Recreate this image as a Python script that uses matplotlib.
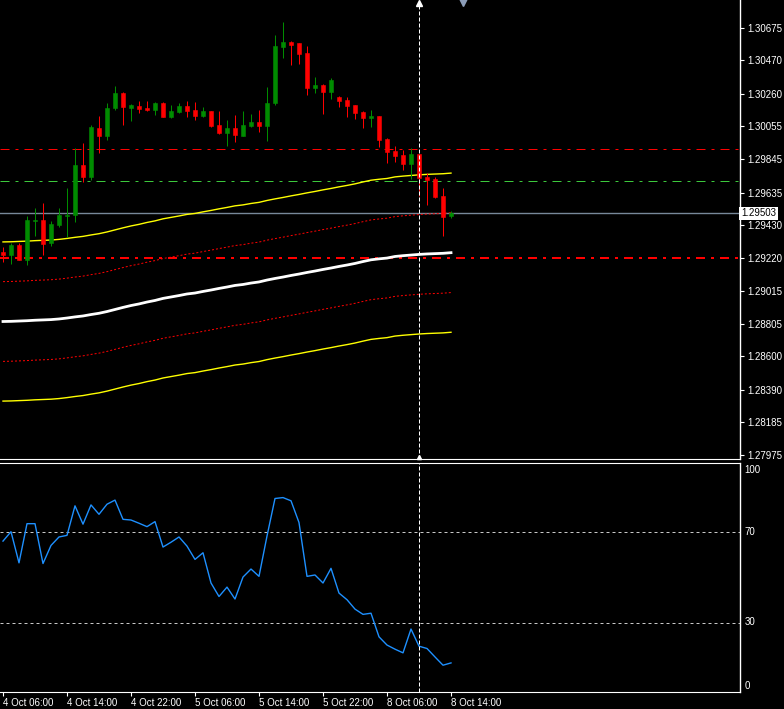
import matplotlib
matplotlib.use("Agg")
import matplotlib.pyplot as plt
import matplotlib.transforms as mtransforms

plt.rcParams.update({
    "font.family": ["Liberation Sans", "DejaVu Sans"],
    "font.size": 7,
    "lines.scale_dashes": False,
    "figure.facecolor": "black",
    "axes.facecolor": "black",
})

# ---- data (H1 bars) ----
opens = [1.29261, 1.29240, 1.29304, 1.29209, 1.29458, 1.29462, 1.29318, 1.29430, 1.29489, 1.29493,
         1.29809, 1.29735, 1.30041, 1.29994, 1.30171, 1.30264, 1.30171, 1.30182, 1.30169, 1.30159,
         1.30201, 1.30114, 1.30144, 1.30182, 1.30157, 1.30121, 1.30150, 1.30062, 1.30013, 1.30043,
         1.29994, 1.30056, 1.30081, 1.30056, 1.30201, 1.30555, 1.30587, 1.30580, 1.30517, 1.30296,
         1.30315, 1.30271, 1.30239, 1.30220, 1.30188, 1.30144, 1.30106, 1.30119, 1.29974, 1.29898,
         1.29872, 1.29816, 1.29879, 1.29733, 1.29721, 1.29613, 1.29484]
highs = [1.29293, 1.29314, 1.29318, 1.29489, 1.29539, 1.29567, 1.29457, 1.29537, 1.29664, 1.29915,
         1.29946, 1.30062, 1.30119, 1.30203, 1.30308, 1.30271, 1.30197, 1.30212, 1.30214, 1.30207,
         1.30207, 1.30188, 1.30199, 1.30214, 1.30207, 1.30176, 1.30150, 1.30150, 1.30094, 1.30125,
         1.30150, 1.30132, 1.30157, 1.30302, 1.30631, 1.30713, 1.30593, 1.30580, 1.30559, 1.30365,
         1.30319, 1.30359, 1.30245, 1.30239, 1.30188, 1.30150, 1.30157, 1.30119, 1.29980, 1.29929,
         1.29904, 1.29917, 1.29879, 1.29759, 1.29733, 1.29664, 1.29518]
lows = [1.29198, 1.29184, 1.29209, 1.29177, 1.29360, 1.29240, 1.29299, 1.29415, 1.29356, 1.29451,
        1.29700, 1.29714, 1.29883, 1.29967, 1.30157, 1.30062, 1.30089, 1.30136, 1.30152, 1.30125,
        1.30114, 1.30108, 1.30140, 1.30114, 1.30094, 1.30114, 1.30051, 1.30007, 1.29931, 1.29956,
        1.29994, 1.30051, 1.30020, 1.29961, 1.30188, 1.30487, 1.30441, 1.30448, 1.30252, 1.30264,
        1.30132, 1.30226, 1.30176, 1.30113, 1.30102, 1.30043, 1.30049, 1.29923, 1.29822, 1.29828,
        1.29778, 1.29721, 1.29613, 1.29556, 1.29601, 1.29360, 1.29474]
closes = [1.29240, 1.29304, 1.29209, 1.29462, 1.29462, 1.29310, 1.29436, 1.29493, 1.29496, 1.29809,
          1.29735, 1.30049, 1.29994, 1.30169, 1.30264, 1.30178, 1.30188, 1.30163, 1.30159, 1.30203,
          1.30114, 1.30150, 1.30182, 1.30152, 1.30121, 1.30150, 1.30058, 1.30013, 1.30041, 1.30001,
          1.30062, 1.30081, 1.30056, 1.30201, 1.30561, 1.30587, 1.30568, 1.30511, 1.30296, 1.30315,
          1.30271, 1.30346, 1.30214, 1.30182, 1.30138, 1.30106, 1.30119, 1.29967, 1.29891, 1.29866,
          1.29816, 1.29879, 1.29727, 1.29714, 1.29607, 1.29481, 1.29503]

# slow moving average and its envelopes
ma_mid = [1.28820, 1.28821, 1.28823, 1.28825, 1.28828, 1.28830, 1.28832, 1.28836, 1.28842, 1.28849,
          1.28855, 1.28864, 1.28872, 1.28883, 1.28896, 1.28909, 1.28921, 1.28931, 1.28943, 1.28953,
          1.28966, 1.28975, 1.28984, 1.28994, 1.29000, 1.29010, 1.29019, 1.29029, 1.29038, 1.29048,
          1.29054, 1.29063, 1.29070, 1.29082, 1.29092, 1.29101, 1.29111, 1.29120, 1.29130, 1.29139,
          1.29149, 1.29158, 1.29168, 1.29177, 1.29187, 1.29199, 1.29210, 1.29216, 1.29221, 1.29231,
          1.29236, 1.29240, 1.29244, 1.29247, 1.29249, 1.29251, 1.29255]
ENV_OUTER = 0.00503
ENV_INNER = 0.00252

rsi = [65.9, 70.0, 56.4, 73.5, 73.5, 56.1, 64.0, 67.7, 68.4, 81.3,
       73.3, 81.7, 77.6, 82.0, 83.8, 75.4, 75.1, 73.7, 72.2, 74.4,
       63.3, 65.4, 67.7, 63.7, 57.9, 60.8, 47.6, 41.7, 45.8, 40.6,
       50.2, 53.7, 50.5, 68.1, 84.5, 84.9, 83.5, 74.0, 50.5, 51.1,
       47.6, 54.0, 43.2, 40.3, 36.2, 33.9, 34.4, 24.1, 20.5, 18.7,
       17.1, 27.5, 20.0, 19.0, 15.3, 11.7, 12.7]
rsi_levels = [70, 30]

price_ticks = [1.30675, 1.30470, 1.30260, 1.30055, 1.29845, 1.29635, 1.29430,
               1.29220, 1.29015, 1.28805, 1.28600, 1.28390, 1.28185, 1.27975]
bid = 1.29503
hlines_dashdot = [(1.29910, "#FF0000", 1), (1.29708, "#3CC83C", 1), (1.29221, "#FF0000", 2)]
time_pos = [0, 8, 16, 24, 32, 40, 48, 56]
time_labels = ["4 Oct 06:00", "4 Oct 14:00", "4 Oct 22:00", "5 Oct 06:00",
               "5 Oct 14:00", "5 Oct 22:00", "8 Oct 06:00", "8 Oct 14:00"]
cross_bar = 52

# ---- layout in pixels ----
W, H = 784, 709
fig = plt.figure(figsize=(W / 100, H / 100), dpi=100)
ax = fig.add_axes([0, (H - 459) / H, 740 / W, 459 / H])
ax2 = fig.add_axes([0, (H - 692) / H, 740 / W, (692 - 463) / H])
XL = (-3 / 8, (740 - 3) / 8)
PX = 0.72  # 1 px in points
DASHDOT = (0, (9 * PX, 6 * PX, 3 * PX, 6 * PX))

for a in (ax, ax2):
    a.set_xlim(*XL)
    a.set_facecolor("black")
    for s in ("left", "top", "bottom", "right"):
        a.spines[s].set_visible(False)
    a.spines["right"].set_visible(True)
    a.spines["right"].set_color("white")
    a.spines["right"].set_linewidth(1.0)
ax.spines["bottom"].set_visible(True); ax.spines["bottom"].set_color("white")
ax2.spines["top"].set_visible(True); ax2.spines["top"].set_color("white")
ax2.spines["bottom"].set_visible(True); ax2.spines["bottom"].set_color("white")

# ---- main price window ----
ax.set_ylim(1.27951, 1.30852)
x = list(range(len(closes)))
up = [c >= o for o, c in zip(opens, closes)]
cols = ["#008C00" if u else "#FF0000" for u in up]
ax.vlines(x, lows, highs, colors=cols, linewidth=PX, zorder=4)
bott = [min(o, c) for o, c in zip(opens, closes)]
hgt = [max(abs(c - o), 0.00002) for o, c in zip(opens, closes)]
ax.bar(x, hgt, bottom=bott, width=0.62, color=cols, edgecolor=cols, linewidth=0.4, zorder=5)

upper_out = [m + ENV_OUTER for m in ma_mid]
lower_out = [m - ENV_OUTER for m in ma_mid]
upper_in = [m + ENV_INNER for m in ma_mid]
lower_in = [m - ENV_INNER for m in ma_mid]
ax.plot(x, upper_out, color="#FFFF00", lw=1.0, zorder=3)
ax.plot(x, lower_out, color="#FFFF00", lw=1.0, zorder=3)
ax.plot(x, upper_in, color="#FF0000", lw=PX, ls=(0, (2 * PX, 2 * PX)), zorder=3)
ax.plot(x, lower_in, color="#FF0000", lw=PX, ls=(0, (2 * PX, 2 * PX)), zorder=3)
ax.plot(x, ma_mid, color="white", lw=2.0, zorder=3)

for lvl, c, w in hlines_dashdot:
    ax.axhline(lvl, color=c, lw=w * PX, ls=DASHDOT, zorder=2)
ax.axhline(bid, color="#778899", lw=1.0, zorder=2)

ax.yaxis.tick_right()
ax.set_yticks(price_ticks)
ax.set_yticklabels([f"{p:.5f}" for p in price_ticks])
ax.tick_params(axis="y", colors="white", length=3, width=0.8, pad=2, labelsize=7)
ax.set_xticks([])
ytr = mtransforms.blended_transform_factory(ax.transAxes, ax.transData)
ax.text(1.0015, bid, "1.29503", transform=ytr, ha="left", va="center", fontsize=7,
        color="black", bbox=dict(facecolor="white", edgecolor="none", pad=1.2), zorder=10,
        clip_on=False)

# crosshair and chart markers
ax.axvline(cross_bar, color="white", lw=PX, ls=(0, (4 * PX, 2 * PX)), zorder=6)
ax2.axvline(cross_bar, color="white", lw=PX, ls=(0, (4 * PX, 2 * PX)), zorder=6)
xtr = mtransforms.blended_transform_factory(ax.transData, ax.transAxes)
ax.plot([cross_bar], [0.994], marker="^", ms=4, color="white", transform=xtr, clip_on=False, zorder=7)
ax.plot([cross_bar], [0.004], marker="^", ms=3, color="white", transform=xtr, clip_on=False, zorder=7)
ax.plot([57.5], [0.997], marker="v", ms=7, color="#8C9DB8", transform=xtr, clip_on=False, zorder=7)

# ---- RSI window ----
ax2.set_ylim(0, 100)
ax2.plot(x, rsi, color="#1E90FF", lw=1.0, zorder=3)
for lvl in rsi_levels:
    ax2.axhline(lvl, color="#C8C8C8", lw=PX, ls=(0, (3 * PX, 3 * PX)), zorder=2)
ax2.set_yticks([])
rtr = mtransforms.blended_transform_factory(ax2.transAxes, ax2.transData)
for val, ypos in [("100", 97.1), ("70", 70.0), ("30", 30.6), ("0", 2.8)]:
    ax2.text(1.006, ypos, val, transform=rtr, ha="left", va="center", fontsize=7, color="white")

ax2.set_xticks(time_pos)
ax2.set_xticklabels(time_labels, ha="left")
ax2.tick_params(axis="x", colors="white", length=3, width=0.8, pad=1.5, labelsize=7)

fig.savefig("out.png", dpi=100, facecolor="black")
